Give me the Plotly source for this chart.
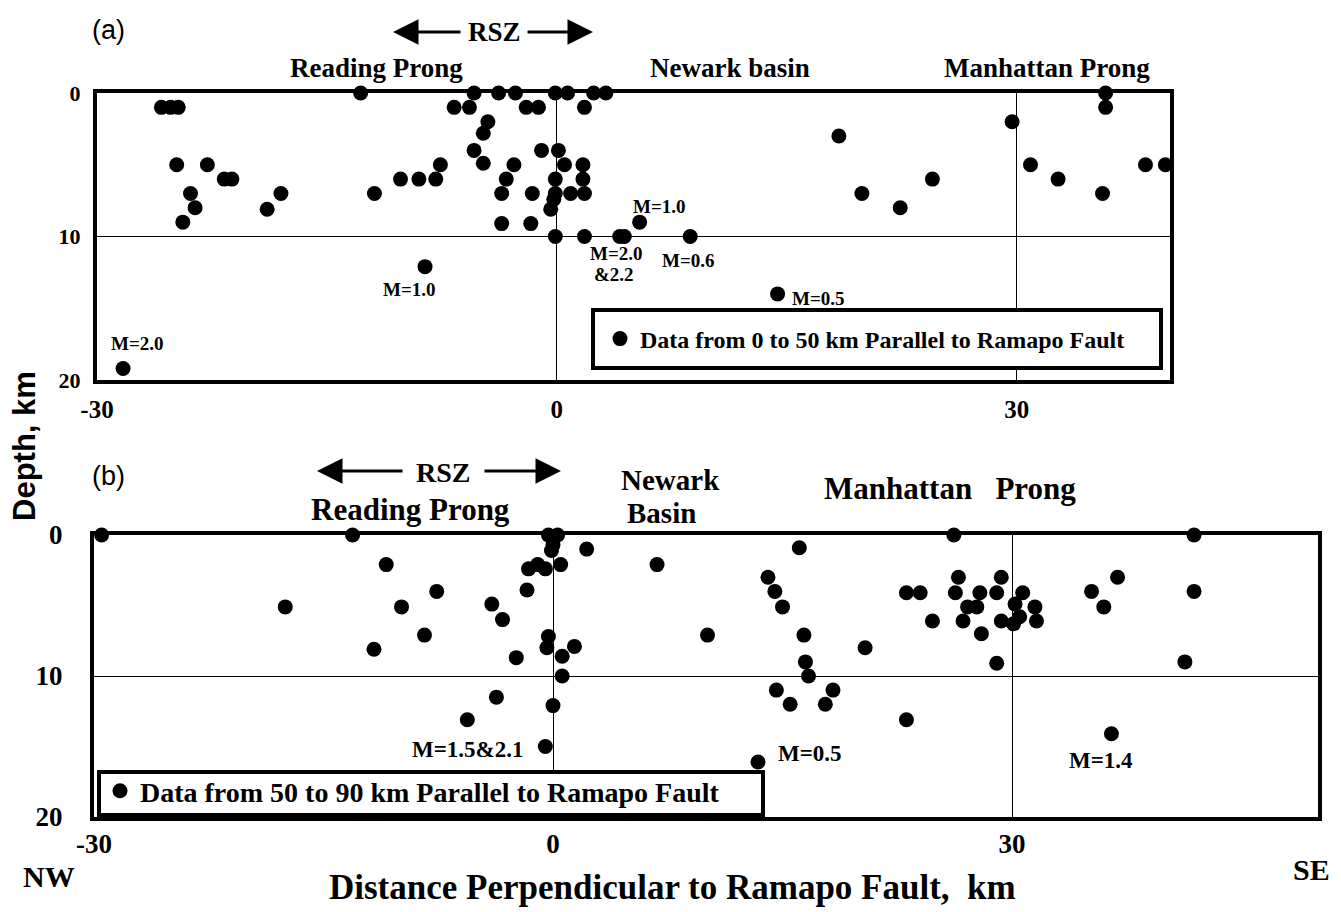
import plotly.graph_objects as go

# ---------------- data ----------------
# Panel (a): data from 0 to 50 km parallel to Ramapo Fault
a_dist = [-28.3, -25.8, -25.2, -24.7, -24.8, -22.8, -23.9, -23.6, -24.4, -21.7, -21.2,
          -18.9, -18.0, -12.8, -11.9, -10.2, -9.0, -7.9, -7.6, -8.6, -6.7, -5.7, -5.4,
          -4.5, -4.8, -5.4, -4.8, -3.8, -2.7, -2.0, -1.2, -2.8, -3.3, -3.6, -3.6, -1.6,
          -1.7, -1.0, -0.1, 0.7, 0.1, 0.5, -0.1, -0.1, -0.2, -0.4, 0.9, -0.1, 1.8, 2.4,
          3.2, 1.7, 1.7, 1.8, 1.8, 4.1, 4.4, 5.4, 8.7, 14.4, 18.4, 19.9, 22.4, 24.5,
          29.7, 30.9, 32.7, 35.8, 35.8, 35.6, 38.4, 39.7]
a_depth = [19.2, 1.0, 1.0, 1.0, 5.0, 5.0, 7.0, 8.0, 9.0, 6.0, 6.0,
           8.1, 7.0, 0.0, 7.0, 6.0, 6.0, 6.0, 5.0, 12.1, 1.0, 1.0, 0.0,
           2.0, 2.8, 4.0, 4.9, 0.0, 0.0, 1.0, 1.0, 5.0, 6.0, 7.0, 9.1, 7.0,
           9.1, 4.0, 0.0, 0.0, 4.0, 5.0, 6.0, 7.0, 7.4, 8.1, 7.0, 10.0, 1.0, 0.0,
           0.0, 5.0, 6.0, 7.0, 10.0, 10.0, 10.0, 9.0, 10.0, 14.0, 3.0, 7.0, 8.0, 6.0,
           2.0, 5.0, 6.0, 0.0, 1.0, 7.0, 5.0, 5.0]

# Panel (b): data from 50 to 90 km parallel to Ramapo Fault
b_dist = [-29.5, -13.1, -10.9, -17.5, -9.9, -7.6, -11.7, -8.4, -4.0, -3.3, -2.4, -1.7,
          -3.7, -5.6, -0.5, -0.3, 0.3, 0.0, -0.1, 2.2, -1.6, -1.0, -0.5, 0.5,
          -0.3, -0.4, 0.6, 1.4, 0.6, 0.0, 6.8, 10.1,
          16.1, 14.05, 14.5, 15.0, 16.4, 16.5, 16.7, 14.6, 15.5, 18.3, 17.8, 13.4,
          20.4, 23.1, 23.1, 24.0, 24.8, 26.2, 26.5, 26.3, 27.9, 29.3, 29.0, 27.1,
          27.7, 26.8, 28.0, 29.0, 30.7, 30.2, 31.5, 29.3, 30.1, 30.5, 31.6,
          35.2, 36.9, 36.0, 36.5, 41.9, 41.9, 41.3]
b_depth = [0.0, 0.0, 2.1, 5.1, 5.1, 4.0, 8.1, 7.1, 4.9, 6.0, 8.7, 3.9,
           11.5, 13.1, 15.0, 0.0, 0.0, 0.7, 1.1, 1.0, 2.4, 2.1, 2.4, 2.1,
           7.2, 8.0, 8.6, 7.9, 10.0, 12.1, 2.1, 7.1,
           0.9, 3.0, 4.0, 5.1, 7.1, 9.0, 10.0, 11.0, 12.0, 11.0, 12.0, 16.1,
           8.0, 13.1, 4.1, 4.1, 6.1, 0.0, 3.0, 4.1, 4.1, 3.0, 4.1, 5.1,
           5.1, 6.1, 7.0, 9.1, 4.1, 4.9, 5.1, 6.1, 6.3, 5.8, 6.1,
           4.0, 3.0, 5.1, 14.1, 0.0, 4.0, 9.0]

x_ticks = [-30, 0, 30]
x_ticktext = ["-30", "0", "30"]
y_ticks = [0, 10, 20]

legend_a = "Data from 0 to 50 km Parallel to Ramapo Fault"
legend_b = "Data from 50 to 90 km Parallel to Ramapo Fault"

# ---------------- layout helpers ----------------
# The page body has an 8 px margin, so the figure is made 8 px smaller
# and all window-pixel positions are shifted by that offset.
OFF = 8
W, H = 1341 - OFF, 912 - OFF
def px(p):
    return (p - OFF) / W
def py(p):
    return 1 - (p - OFF) / H

SERIF = "Liberation Serif, Times New Roman, serif"
SANS = "Liberation Sans, Arial, sans-serif"

fig = go.Figure()
fig.add_trace(go.Scatter(x=a_dist, y=a_depth, mode="markers", name=legend_a,
                         marker=dict(color="black", size=15), cliponaxis=False,
                         xaxis="x", yaxis="y", legend="legend"))
fig.add_trace(go.Scatter(x=b_dist, y=b_depth, mode="markers", name=legend_b,
                         marker=dict(color="black", size=15), cliponaxis=False,
                         xaxis="x2", yaxis="y2", legend="legend2"))

def axis_common(fsize, standoff):
    return dict(showline=True, linecolor="black", linewidth=4, mirror=True,
                showgrid=True, gridcolor="black", gridwidth=1, zeroline=False,
                ticks="", fixedrange=True, automargin=False,
                ticklabelstandoff=standoff,
                tickfont=dict(family=SERIF, size=fsize, color="black", weight="bold"))

fig.update_layout(
    width=W, height=H, margin=dict(l=0, r=0, t=0, b=0, autoexpand=False),
    paper_bgcolor="white", plot_bgcolor="white",
    xaxis=dict(domain=[px(97), px(1170)], range=[-30, 40], tickvals=x_ticks,
               ticktext=x_ticktext, anchor="y", **axis_common(25, 4)),
    yaxis=dict(domain=[py(380), py(93)], range=[20, 0], tickvals=y_ticks,
               anchor="x", **axis_common(22, 8)),
    xaxis2=dict(domain=[px(94), px(1318)], range=[-30, 50], tickvals=x_ticks,
                ticktext=x_ticktext, anchor="y2", **axis_common(27, 0)),
    yaxis2=dict(domain=[py(817), py(535)], range=[20, 0], tickvals=y_ticks,
                anchor="x2", **axis_common(27, 22)),
    legend=dict(x=px(600), y=py(339), xanchor="left", yanchor="middle",
                bgcolor="rgba(0,0,0,0)", borderwidth=0,
                font=dict(family=SERIF, size=24, color="black", weight="bold"),
                itemclick=False, itemdoubleclick=False),
    legend2=dict(x=px(100), y=py(791), xanchor="left", yanchor="middle",
                 bgcolor="rgba(0,0,0,0)", borderwidth=0,
                 font=dict(family=SERIF, size=28, color="black", weight="bold"),
                 itemclick=False, itemdoubleclick=False),
    showlegend=True,
)

# legend frames
fig.add_shape(type="rect", xref="paper", yref="paper", x0=px(593), x1=px(1161),
              y0=py(368), y1=py(310), line=dict(color="black", width=4),
              fillcolor="white", layer="above")
fig.add_shape(type="rect", xref="paper", yref="paper", x0=px(99), x1=px(763),
              y0=py(815), y1=py(772), line=dict(color="black", width=4),
              fillcolor="white", layer="above")

def label(text, x, y, size, family=SERIF, bold=True, xanchor="center", angle=0):
    fig.add_annotation(text=text, x=px(x), y=py(y), xref="paper", yref="paper",
                       showarrow=False, xanchor=xanchor, yanchor="middle", textangle=angle,
                       borderpad=0,
                       font=dict(family=family, size=size, color="black",
                                 weight="bold" if bold else "normal"))

def arrow(x_head, x_tail, y):
    fig.add_annotation(text="", x=px(x_head), y=py(y), xref="paper", yref="paper",
                       ax=x_tail - x_head, ay=0, axref="pixel", ayref="pixel",
                       showarrow=True, arrowhead=2, arrowsize=1.7, arrowwidth=3,
                       arrowcolor="black")

# panel (a) headers
label("(a)", 108, 30, 27, family=SANS, bold=False)
label("RSZ", 494, 32, 27)
arrow(393, 462, 32)
arrow(593, 526, 32)
label("Reading Prong", 376, 68, 27)
label("Newark basin", 730, 68, 27)
label("Manhattan Prong", 1047, 68, 27)

# panel (a) magnitudes
label("M=2.0", 137, 343, 19)
label("M=1.0", 409, 289, 19)
label("M=2.0", 616, 254, 19)
label("&2.2", 614, 274, 19)
label("M=1.0", 659, 207, 19)
label("M=0.6", 688, 260, 19)
label("M=0.5", 818, 299, 19)

# panel (b) headers
label("(b)", 108, 476, 27, family=SANS, bold=False)
label("RSZ", 443, 472, 28)
arrow(317, 404, 471)
arrow(561, 483, 471)
label("Reading Prong", 410, 509, 31)
label("Newark", 670, 480, 29)
label("Basin", 661, 513, 29)
label("Manhattan   Prong", 950, 488, 31)

# panel (b) magnitudes
label("M=1.5&2.1", 467, 749, 23)
label("M=0.5", 810, 753, 23)
label("M=1.4", 1101, 760, 23)

# axis titles and directions
label("Depth, km", 24, 446, 31, family=SANS, angle=-90)
label("Distance Perpendicular to Ramapo Fault,  km", 672, 887, 35)
label("NW", 49, 876, 30)
label("SE", 1292, 869, 30, xanchor="left")

fig.write_html("out.html")
